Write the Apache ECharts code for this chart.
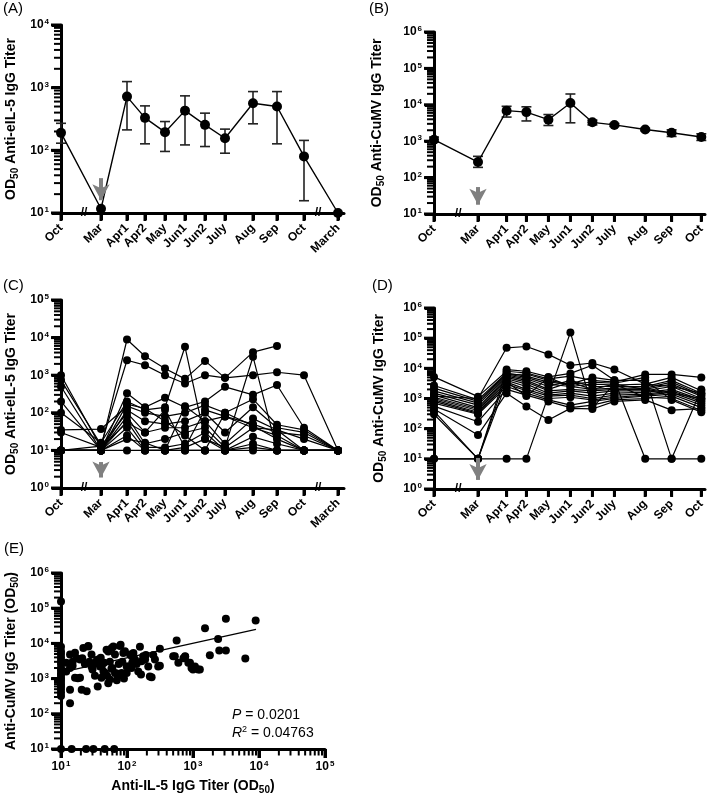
<!DOCTYPE html>
<html><head><meta charset="utf-8">
<script src="https://cdn.jsdelivr.net/npm/echarts@6/dist/echarts.min.js"></script>
<style>html,body{margin:0;padding:0;background:#fff}#c{width:709px;height:796px}</style>
</head><body><div id="c"></div>
<script>
// ---------- DATA ----------
const timeLabels = ['Oct','Mar','Apr1','Apr2','May','Jun1','Jun2','July','Aug','Sep','Oct','March'];
// sampling timeline (compressed across the axis breaks)
const timePos = [0, 4, 6.6, 8.4, 10.4, 12.4, 14.4, 16.4, 19.2, 21.6, 24.3, 27.7];
const breaksAC = [2.3, 25.7];
const breaksBD = [2.2];

// Panel A: anti-eIL-5 mean with error bars
const aMean = [190, 11.7, 720, 330, 195, 430, 255, 156, 565, 500, 80, 10];
const aLow  = [130, null, 212, 127, 96, 122, 115, 90, 265, 127, 15.7, null];
const aHigh = [270, null, 1250, 512, 288, 740, 392, 218, 866, 866, 144, null];

// Panel B: anti-CuMV mean with error bars
const bMean = [1100, 268, 6900, 6300, 3900, 11200, 3300, 2800, 2100, 1700, 1300];
const bLow  = [950, 191, 4600, 3600, 2700, 3200, 2800, 2550, 1950, 1350, 1050];
const bHigh = [1300, 384, 9100, 8800, 5400, 19800, 3800, 3050, 2250, 2050, 1600];

// Panel C: individual horses, anti-eIL-5
const c1  = [1000, 12, 8900, 3200, 1500, 800, 2400, 850, 4100, 6000, null, null];
const c2  = [740, 14, 2500, 1850, 1000, 600, 1000, 850, 1000, 1200, 1000, 10];
const c3  = [500, 10, 330, 140, 250, 140, 200, 490, 300, 550, 40, 10];
const c4  = [100, 16, 200, 120, 140, 5700, 20, 12, 3100, 10, 10, 10];
const c5  = [35, 37, 150, 100, 80, 100, 160, 100, 230, 48, 35, 10];
const c6  = [10, 10, 118, 60, 50, 60, 100, 30, 140, 40, 30, 10];
const c7  = [10, 13, 100, 30, 40, 40, 60, 15, 70, 35, 20, 10];
const c8  = [10, 10, 80, 15, 20, 30, 40, 12, 40, 25, 10, 10];
const c9  = [10, 10, 60, 12, 12, 15, 30, 10, 23, 15, 10, 10];
const c10 = [10, 10, 40, 10, 10, 12, 20, 10, 15, 10, 10, 10];
const c11 = [10, 10, 25, 10, 10, 10, 10, 10, 12, 10, 10, 10];
const c12 = [10, 10, 20, 16, 10, 150, 60, 80, 40, 35, 10, 10];
const c13 = [10, 10, 10, 10, 10, 10, 10, 10, 10, 10, 10, 10];
const c14 = [30, 12, 55, 30, 120, 12, 120, 80, 50, 30, 25, 10];
const c15 = [200, 10, 170, 130, 60, 25, 10, 100, 45, 20, 10, 10];

// Panel D: individual horses, anti-CuMV
const d1  = [1200, 1000, 48000, 53000, 29000, 12600, 15000, 9100, 3000, 2500, 1500];
const d2  = [10, 10, 10, 10, null, 155000, 500, 3000, 2000, 1500, 1000];
const d3  = [10, 10, 9100, 8000, 5200, 6800, 12600, 4000, 10, 10, 10];
const d4  = [5200, 1150, 8000, 7000, 4500, 5500, 4000, 3500, 6300, 6300, 5000];
const d5  = [2700, 900, 7000, 5500, 3500, 3000, 3500, 3200, 5000, 10, 2000];
const d6  = [2200, 800, 6500, 5000, 3000, 2500, 3000, 2800, 3000, 5000, 1800];
const d7  = [1800, 700, 6000, 4500, 2500, 4000, 2500, 2500, 2500, 4000, 1500];
const d8  = [1500, 600, 5500, 4000, 2000, 3500, 2000, 2200, 2200, 3500, 1300];
const d9  = [1300, 500, 5000, 3500, 1800, 2000, 1800, 2000, 2000, 3000, 1200];
const d10 = [1100, 450, 4500, 3000, 1500, 1800, 1500, 1800, 1800, 2500, 1000];
const d11 = [1000, 400, 4000, 2500, 1300, 1500, 1200, 1500, 1600, 2000, 900];
const d12 = [900, 350, 3500, 2000, 1200, 1300, 1000, 1300, 1400, 1800, 800];
const d13 = [800, 320, 3000, 1800, 1000, 1100, 900, 1100, 1300, 1600, 700];
const d14 = [700, 300, 2500, 1500, 900, 600, 800, 1000, 1200, 1400, 600];
const d15 = [560, 170, 2000, 1300, 800, 500, 600, 900, 1000, 1200, 500];
const d16 = [450, 62, 1500, 540, 195, 470, 450, 800, 900, 410, 460];
const d17 = [380, 10, 3500, 1200, 5000, 2500, 2000, 3000, 1100, 1000, 400];
const d18 = [300, 10, 6000, 6500, 4000, 3000, 5000, 4000, 4000, 900, 350];

// Panel E: correlation scatter (anti-IL-5 x, anti-CuMV y)
const eX = [10,10,10,10,10,10,10,10,10,10,10,10,10,10,10,10,10,10,10,
  14.5,24,31,46,64,
  13.7,16.3,19.4,21.8,25.8,29,32.7,36.7,41.4,46.4,52,58.6,65.7,78,83,93,98.8,111,132,157,163,188,236,265,315,315,565,530,600,760,850,950,
  13.7,13.7,20.6,24.5,36,19.4,16.3,13.7,32.7,41,52,65.7,74,99,117,210,148,
  1520,3150,8900,2400,2500,3150,1800,6200,760,900,1070,1270,1000,
  17.3,18,21,26,29,35,39,44,49,55,62,70,80,88,104,118,125,166,176,193,222,250,297,501,717,1200,
  12,12,15,15,23,27,45,55,60,75,85,120,140,90,70,50,58,40,30];
const eY = [155000,8000,6000,5000,4000,3200,2600,2000,1700,1400,1200,1000,850,700,600,500,400,320,10,
  10,10,10,10,10,
  4800,5400,3500,7400,8500,4800,2700,3500,2200,1450,5900,7400,4800,8500,1450,6000,2200,4800,3500,8000,1300,3500,1100,3500,7000,2300,12000,4300,2800,4300,2800,2000,
  480,200,480,440,600,1050,1050,2000,1200,1050,740,1450,1200,1450,2000,2200,1600,
  27000,50000,45000,13300,6300,6300,4600,3700,4200,2800,2200,1800,1800,
  3800,1030,3800,8200,2200,3400,2200,1600,6600,940,8200,1400,9100,5300,2200,4300,5300,3100,4300,4700,1150,4700,2200,4300,3800,1800,
  2800,1600,2300,3000,2600,3000,2800,3000,2000,2600,3000,2800,2600,1000,900,1200,1900,3900,1800];
const fitX = [10, 9000];
const fitY = [1500, 25000];
const statP = '0.0201';
const statR2 = '0.04763';

// annotation arrows (vaccination), [from, to] titre values at 'Mar'
const arrowA = [36, 16];
const arrowB = [55, 18];
const arrowC = [4.9, 1.9];
const arrowD = [10.7, 2.0];

// ---------- CHART ----------
const FONT = '"Liberation Sans", Arial, sans-serif';
const chart = echarts.init(document.getElementById('c'));

const tickRich = {
  b: {fontFamily: FONT, fontSize: 12, fontWeight: 'bold', color: '#000', lineHeight: 14},
  s: {fontFamily: FONT, fontSize: 8, fontWeight: 'bold', color: '#000', lineHeight: 14, verticalAlign: 'top', padding: [0, 0, 0, 1]}
};
const nameRich = {
  t: {fontFamily: FONT, fontSize: 14, fontWeight: 'bold', color: '#000', lineHeight: 18},
  sub: {fontFamily: FONT, fontSize: 10, fontWeight: 'bold', color: '#000', lineHeight: 18, verticalAlign: 'bottom'}
};
function sup(v) { const e = Math.round(Math.log10(v)); return '{b|10}{s|' + e + '}'; }

const grids = [
  {left: 61, top: 25, width: 283, height: 188},
  {left: 434, top: 32, width: 271, height: 182},
  {left: 61, top: 300, width: 283, height: 188},
  {left: 434, top: 308, width: 271, height: 181},
  {left: 61, top: 573, width: 264, height: 176}
];

const axisLine = {show: true, onZero: false, lineStyle: {color: '#000', width: 3}};

function timeAxis(gi, n, max) {
  const vals = timePos.slice(0, n);
  return {
    type: 'value', gridIndex: gi, min: 0, max: max,
    axisLine: axisLine,
    axisTick: {show: true, customValues: vals, length: 7, lineStyle: {color: '#000', width: 3}},
    axisLabel: {show: true, customValues: vals, rotate: 45, margin: 13,
      fontFamily: FONT, fontSize: 12, fontWeight: 'bold', color: '#000',
      formatter: v => timeLabels[timePos.indexOf(v)]},
    splitLine: {show: false}
  };
}
function logAxis(gi, min, max, extra) {
  return Object.assign({
    type: 'log', logBase: 10, gridIndex: gi, min: min, max: max,
    axisLine: axisLine,
    axisTick: {show: true, length: 9, lineStyle: {color: '#000', width: 3}},
    axisLabel: {formatter: sup, rich: tickRich, margin: 12},
    splitLine: {show: false}, minorTick: {show: false}, minorSplitLine: {show: false}
  }, extra || {});
}
function yName(text, gap) {
  return {
    name: '{t|' + text[0] + '}{sub|50}{t|' + text[1] + '}',
    nameLocation: 'middle', nameGap: gap, nameRotate: 90,
    nameTextStyle: {fontFamily: FONT, fontSize: 14, fontWeight: 'bold', color: '#000', rich: nameRich}
  };
}

const xAxes = [
  timeAxis(0, 12, 28.3),
  timeAxis(1, 11, 24.636),
  timeAxis(2, 12, 28.3),
  timeAxis(3, 11, 24.636),
  logAxis(4, 10, 1e5, {
    axisLabel: {formatter: sup, rich: tickRich, margin: 11},
    name: '{t|Anti-IL-5 IgG Titer (OD}{sub|50}{t|)}', nameLocation: 'middle', nameGap: 28,
    nameTextStyle: {fontFamily: FONT, fontSize: 14, fontWeight: 'bold', color: '#000', rich: nameRich}
  })
];
const yAxes = [
  logAxis(0, 10, 1e4, yName(['OD', ' Anti-eIL-5 IgG Titer'], 41)),
  logAxis(1, 10, 1e6, yName(['OD', ' Anti-CuMV IgG Titer'], 48)),
  logAxis(2, 1, 1e5, yName(['OD', ' Anti-eIL-5 IgG Titer'], 41)),
  logAxis(3, 1, 1e6, yName(['OD', ' Anti-CuMV IgG Titer'], 46)),
  logAxis(4, 10, 1e6, {
    name: '{t|Anti-CuMV IgG Titer (OD}{sub|50}{t|)}', nameLocation: 'middle', nameGap: 41, nameRotate: 90,
    nameTextStyle: {fontFamily: FONT, fontSize: 14, fontWeight: 'bold', color: '#000', rich: nameRich}
  })
];

function pts(vals) {
  const out = [];
  vals.forEach((v, i) => { if (v != null) out.push([timePos[i], v]); });
  return out;
}
function arrowMark(a) {
  return {
    silent: true, animation: false, symbol: ['none', 'arrow'], symbolSize: [13, 16],
    label: {show: false}, emphasis: {disabled: true},
    lineStyle: {color: '#808080', width: 4, type: 'solid', opacity: 1},
    data: [[{coord: [timePos[1], a[0]]}, {coord: [timePos[1], a[1]]}]]
  };
}
function lineSeries(gi, vals, size, width, mark) {
  const s = {
    type: 'line', xAxisIndex: gi, yAxisIndex: gi, data: pts(vals), clip: false,
    symbol: 'circle', symbolSize: size, showSymbol: true, silent: true, animation: false,
    itemStyle: {color: '#000'}, lineStyle: {color: '#000', width: width}, z: 3
  };
  if (mark) s.markLine = arrowMark(mark);
  return s;
}
function errSeries(gi, mean, lo, hi) {
  const data = [];
  mean.forEach((m, i) => { if (lo[i] != null) data.push([timePos[i], lo[i], hi[i]]); });
  return {
    type: 'custom', xAxisIndex: gi, yAxisIndex: gi, silent: true, clip: false, z: 2, animation: false,
    encode: {x: 0, y: [1, 2]}, data: data,
    renderItem: (params, api) => {
      const x = api.value(0);
      const a = api.coord([x, api.value(1)]);
      const b = api.coord([x, api.value(2)]);
      const w = 5, st = {stroke: '#222', lineWidth: 1.6};
      return {type: 'group', children: [
        {type: 'line', shape: {x1: a[0], y1: a[1], x2: b[0], y2: b[1]}, style: st},
        {type: 'line', shape: {x1: a[0] - w, y1: a[1], x2: a[0] + w, y2: a[1]}, style: st},
        {type: 'line', shape: {x1: b[0] - w, y1: b[1], x2: b[0] + w, y2: b[1]}, style: st}
      ]};
    }
  };
}
// tick marks drawn as rect symbols placed through the axis scales
function logTicks(lo, hi) {
  const major = [], minor = [];
  for (let e = lo; e <= hi; e++) {
    major.push(Math.pow(10, e));
    if (e < hi) for (let k = 2; k <= 9; k++) minor.push(k * Math.pow(10, e));
  }
  return {major: major, minor: minor};
}
function tickSeries(gi, data, size, offset) {
  return {
    type: 'scatter', xAxisIndex: gi, yAxisIndex: gi, clip: false, silent: true, animation: false,
    symbol: 'rect', symbolSize: size, symbolOffset: offset, z: 1,
    itemStyle: {color: '#000', opacity: 1}, emphasis: {disabled: true}, data: data
  };
}
function yTickSeries(gi, xAt, lo, hi) {
  const t = logTicks(lo, hi);
  return [
    tickSeries(gi, t.major.map(v => [xAt, v]), [10, 3], [-5, 0]),
    tickSeries(gi, t.minor.map(v => [xAt, v]), [7, 2], [-3.5, 0])
  ];
}
function xTimeTickSeries(gi, n, yAt) {
  return tickSeries(gi, timePos.slice(0, n).map(t => [t, yAt]), [3, 8], [0, 4]);
}

const cSet = [c1, c2, c3, c4, c5, c6, c7, c8, c9, c10, c11, c12, c13, c14, c15];
const dSet = [d1, d2, d3, d4, d5, d6, d7, d8, d9, d10, d11, d12, d13, d14, d15, d16, d17, d18];

let series = [];
series.push(errSeries(0, aMean, aLow, aHigh));
series.push(lineSeries(0, aMean, 10, 1.4, arrowA));
series.push(errSeries(1, bMean, bLow, bHigh));
series.push(lineSeries(1, bMean, 10, 1.4, arrowB));
cSet.forEach((v, i) => series.push(lineSeries(2, v, 8, 1.2, i === 0 ? arrowC : null)));
dSet.forEach((v, i) => series.push(lineSeries(3, v, 8, 1.2, i === 0 ? arrowD : null)));
series.push({
  type: 'scatter', xAxisIndex: 4, yAxisIndex: 4, clip: false, silent: true, animation: false,
  symbol: 'circle', symbolSize: 8, itemStyle: {color: '#000', opacity: 1},
  data: eX.map((x, i) => [x, eY[i]])
});
series.push({
  type: 'line', xAxisIndex: 4, yAxisIndex: 4, clip: false, silent: true, animation: false,
  showSymbol: false, lineStyle: {color: '#000', width: 1.3},
  data: fitX.map((x, i) => [x, fitY[i]])
});
series = series.concat(yTickSeries(0, 0, 1, 4), yTickSeries(1, 0, 1, 6), yTickSeries(2, 0, 0, 5),
  yTickSeries(3, 0, 0, 6), yTickSeries(4, 10, 1, 6));
series.push(xTimeTickSeries(0, 12, 10), xTimeTickSeries(1, 11, 10), xTimeTickSeries(2, 12, 1), xTimeTickSeries(3, 11, 1));
(function () {
  const t = logTicks(1, 5);
  series.push(tickSeries(4, t.major.map(v => [v, 10]), [3, 9], [0, 4.5]));
  series.push(tickSeries(4, t.minor.map(v => [v, 10]), [2, 6.5], [0, 3.25]));
})();

chart.setOption({
  animation: false,
  textStyle: {fontFamily: FONT},
  grid: grids,
  xAxis: xAxes,
  yAxis: yAxes,
  series: series
});

// ---------- letters, breaks, stats ----------
const graphics = [];
const letters = [['(A)', 3, 1], ['(B)', 369, 1], ['(C)', 3, 278], ['(D)', 372, 278], ['(E)', 4, 541]];
letters.forEach((l, i) => graphics.push({type: 'text', id: 'lt' + i, left: l[1], top: l[2], silent: true,
  style: {text: l[0], fontFamily: FONT, fontSize: 15, fill: '#000'}}));
let gid = 0;
function breakMark(gi, t, yv) {
  const p = chart.convertToPixel({gridIndex: gi}, [t, yv]);
  graphics.push({type: 'text', id: 'bk' + (gid++), x: p[0], y: p[1], silent: true, z: 110,
    style: {text: '//', fontFamily: FONT, fontSize: 12, fontWeight: 'bold', fill: '#000', align: 'center', verticalAlign: 'middle'}});
}
breaksAC.forEach(t => { breakMark(0, t, 10); breakMark(2, t, 1); });
breaksBD.forEach(t => { breakMark(1, t, 10); breakMark(3, t, 1); });
graphics.push({type: 'text', id: 'statP', left: 232, top: 708, silent: true,
  style: {rich: {i: {fontFamily: FONT, fontSize: 14, fontStyle: 'italic', fill: '#000'}, n: {fontFamily: FONT, fontSize: 14, fill: '#000'}},
    text: '{i|P}{n| = ' + statP + '}'}});
graphics.push({type: 'text', id: 'statR', left: 232, top: 725, silent: true,
  style: {rich: {i: {fontFamily: FONT, fontSize: 14, fontStyle: 'italic', fill: '#000', lineHeight: 17},
                 s: {fontFamily: FONT, fontSize: 9, fill: '#000', verticalAlign: 'top', lineHeight: 17},
                 n: {fontFamily: FONT, fontSize: 14, fill: '#000', lineHeight: 17}},
    text: '{i|R}{s|2}{n| = ' + statR2 + '}'}});
chart.setOption({graphic: graphics});
</script></body></html>
